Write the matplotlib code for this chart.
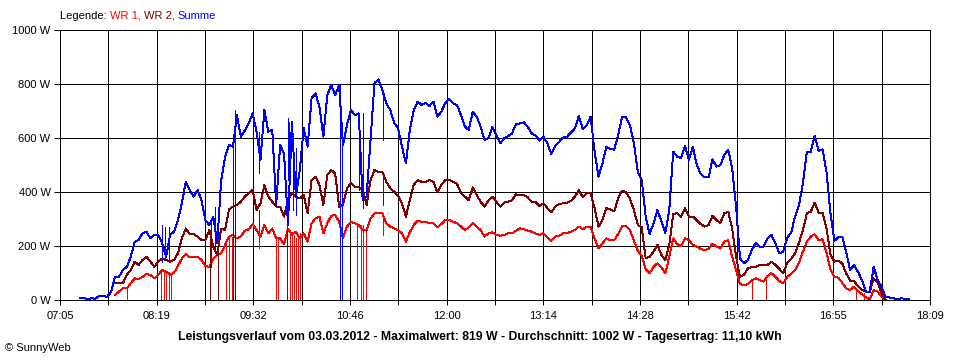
import numpy as np
import matplotlib
matplotlib.use("Agg")
import matplotlib.pyplot as plt

# Leistungsverlauf 03.03.2012, Werte in W, alle 3 Minuten ab 07:20
start_min = 440
step_min = 3
nan = np.nan

summe = [8, 8, 4, 6, 5, 15, 15, 12, 30, 86, 86, 111, 123, 160, 216, 222, 247, 253, 228, 241,
         241, 210, 160, 241, 253, 296, 358, 438, 407, 383, 407, 370, 296, 278, 309, 210, 444, 531, 574, 568,
         685, 605, 627, 654, 691, 623, 519, 704, 623, 630, 352, 574, 543, 278, 661, 383, 481, 636, 568, 747,
         765, 716, 605, 759, 796, 759, 796, 574, 648, 704, 685, 691, 370, 383, 593, 803, 817, 778, 728, 704,
         657, 636, 568, 506, 630, 704, 735, 722, 731, 719, 735, 679, 698, 728, 745, 728, 722, 685, 642, 630,
         698, 679, 642, 593, 599, 640, 611, 580, 599, 607, 617, 652, 654, 658, 642, 617, 609, 590, 605, 580,
         540, 571, 587, 602, 605, 620, 636, 682, 632, 648, 679, 550, 457, 506, 568, 559, 557, 611, 679, 677,
         648, 580, 475, 444, 309, 244, 284, 333, 290, 248, 333, 550, 531, 525, 571, 519, 568, 500, 467, 454,
         454, 521, 494, 500, 537, 556, 488, 346, 154, 136, 148, 185, 212, 198, 198, 228, 241, 210, 173, 179,
         231, 249, 309, 352, 432, 549, 549, 607, 552, 558, 475, 321, 219, 232, 235, 179, 111, 130, 105, 74,
         31, 31, 123, 74, 49, 12, 9, 6, 4, 6, 5, 2]

wr2 = [nan] * 9 + [
    62, 62, 62, 93, 111, 142, 130, 148, 160, 142, 123,
    142, 154, 148, 142, 148, 173, 228, 265, 244, 244, 235, 222, 222, 259, 198, 167, 265, 259, 336, 346,
    352, 364, 383, 395, 407, 333, 358, 426, 383, 364, 346, 346, 309, 370, 395, 383, 376, 389, 321, 444,
    457, 426, 352, 463, 481, 469, 346, 352, 414, 432, 420, 420, 407, 352, 444, 481, 475, 475, 438, 414,
    401, 386, 358, 309, 370, 426, 444, 438, 438, 444, 438, 399, 426, 444, 444, 438, 430, 397, 383, 370,
    417, 389, 364, 346, 368, 383, 364, 346, 361, 364, 370, 391, 389, 388, 380, 364, 362, 348, 358, 340,
    325, 346, 356, 358, 361, 367, 383, 407, 380, 395, 395, 340, 272, 296, 340, 336, 328, 376, 405, 399,
    376, 333, 278, 269, 154, 160, 179, 204, 167, 148, 204, 319, 321, 309, 340, 309, 309, 296, 281, 272,
    278, 312, 296, 286, 321, 327, 265, 160, 86, 93, 117, 123, 123, 130, 130, 130, 142, 130, 115, 99,
    138, 152, 173, 212, 259, 321, 327, 361, 323, 323, 265, 170, 142, 146, 136, 99, 72, 70, 52, 37,
    31, 31, 80, 65, 27, 0] + [nan] * 6

wr1 = [nan] * 9 + [
    19, 31, 43, 43, 62, 80, 77, 86, 96, 93, 80,
    93, 111, 105, 93, 101, 126, 154, 170, 158, 160, 160, 148, 126, 123, 154, 167, 173, 204, 235, 241,
    228, 235, 257, 262, 281, 259, 235, 278, 247, 265, 228, 228, 207, 265, 241, 253, 228, 247, 216, 284,
    302, 309, 247, 284, 312, 315, 290, 228, 272, 290, 284, 278, 259, 259, 302, 321, 321, 321, 284, 272,
    265, 259, 247, 216, 251, 278, 294, 290, 288, 286, 284, 269, 281, 296, 296, 290, 284, 272, 259, 269,
    284, 272, 259, 235, 247, 251, 241, 238, 241, 247, 247, 257, 265, 262, 257, 253, 246, 241, 247, 232,
    219, 235, 238, 247, 247, 253, 259, 272, 262, 272, 272, 228, 191, 210, 228, 222, 222, 244, 274, 274,
    259, 220, 182, 164, 114, 99, 123, 136, 121, 99, 160, 228, 207, 200, 228, 222, 204, 198, 189, 185,
    189, 209, 198, 191, 216, 222, 160, 111, 58, 56, 58, 74, 80, 74, 68, 89, 99, 86, 70, 62,
    86, 96, 111, 138, 179, 216, 235, 243, 222, 225, 175, 114, 86, 83, 64, 43, 37, 49, 33, 22,
    10, 2, 37, 31, 12, 0] + [nan] * 6

# kurze Einbrueche (Minuten seit Mitternacht, von, bis)
wr1_drop_t = [476, 502, 504, 506, 508, 510, 552, 554, 556.5, 589.5, 591, 600.5, 602, 603.5, 605,
              606.5, 608, 652, 654.5, 656, 658.5, 953.5, 964, 1032.5, 1039, 576.8, 671.8]
wr1_drop_lo = [0] * 25 + [191, 241]
wr1_drop_hi = [43, 111, 111, 105, 105, 93, 204, 235, 235, 228, 228, 253, 253, 241, 228,
               228, 247, 284, 278, 278, 259, 74, 89, 37, 25, 284, 321]

wr2_drop_t = [539.5, 545.5, 598.5, 576.8, 671.8]
wr2_drop_lo = [0, 0, 0, 267, 352]
wr2_drop_hi = [259, 198, 383, 333, 475]

summe_drop_t = [557, 558.5, 638.5, 640, 502.5, 505, 508, 540.5, 543, 599, 600, 603, 605,
                653.5, 656, 671.8, 576.8]
summe_drop_lo = [0, 0, 0, 0, 142, 150, 150, 123, 185, 444, 358, 333, 315, 407, 341, 593, 470]
summe_drop_hi = [568, 704, 796, 586, 278, 270, 270, 296, 346, 673, 661, 611, 562, 691, 691, 766, 623]

tick_labels = ["07:05", "08:19", "09:32", "10:46", "12:00", "13:14", "14:28", "15:42", "16:55", "18:09"]
t_min, t_max = 425, 1089

title = ("Leistungsverlauf vom 03.03.2012 - Maximalwert: 819 W - Durchschnitt: 1002 W"
         " - Tagesertrag: 11,10 kWh")

plt.rcParams['font.family'] = ['Liberation Sans', 'DejaVu Sans']
plt.rcParams['lines.antialiased'] = False

RED = "#ff0000"
MAROON = "#800000"
BLUE = "#0000ff"
LW = 0.7  # ~1 px
FS = 8

t = start_min + step_min * np.arange(len(summe))

fig = plt.figure(figsize=(9.6, 3.6), dpi=100)
ax = fig.add_axes([60 / 960, 60 / 360, 870 / 960, 270 / 360])

ax.plot(t, wr1, color=RED, lw=LW, zorder=3)
ax.vlines(wr1_drop_t, wr1_drop_lo, wr1_drop_hi, color=RED, lw=LW, zorder=3, antialiased=False)
ax.plot(t, wr2, color=MAROON, lw=LW, zorder=4)
ax.vlines(wr2_drop_t, wr2_drop_lo, wr2_drop_hi, color=MAROON, lw=LW, zorder=4, antialiased=False)
ax.plot(t, summe, color=BLUE, lw=LW, zorder=5)
ax.vlines(summe_drop_t, summe_drop_lo, summe_drop_hi, color=BLUE, lw=LW, zorder=5, antialiased=False)

ax.set_xlim(t_min, t_max)
ax.set_ylim(0, 1000)

xt = np.linspace(t_min, t_max, 2 * len(tick_labels) - 1)
xl = []
for i in range(len(xt)):
    xl.append(tick_labels[i // 2] if i % 2 == 0 else "")
ax.set_xticks(xt)
ax.set_xticklabels(xl)
yt = np.arange(0, 1001, 200)
ax.set_yticks(yt)
ax.set_yticklabels(["%d W" % v for v in yt])

ax.tick_params(axis='x', direction='out', length=3.6, width=LW, pad=4.5, labelsize=FS)
ax.tick_params(axis='y', direction='out', length=4.3, width=LW, pad=2.5, labelsize=FS)
ax.grid(True, color='black', linewidth=LW, antialiased=False)
ax.set_axisbelow(True)
for s in ax.spines.values():
    s.set_linewidth(LW)
    s.set_color('black')

# Legende als farbiger Text
fig.canvas.draw()
r = fig.canvas.get_renderer()
x = 60 / 960
parts = [("Legende: ", "black"), ("WR 1, ", RED), ("WR 2, ", MAROON), ("Summe", BLUE)]
for s, c in parts:
    txt = fig.text(x, 1 - 16 / 360, s, color=c, fontsize=FS, va='center')
    x += txt.get_window_extent(renderer=r).width / fig.bbox.width

fig.text(0.5, 1 - 337 / 360, title, ha='center', va='center', fontsize=8.8, fontweight='bold')
fig.text(5 / 960, 1 - 348 / 360, "\u00a9 SunnyWeb", va='center', fontsize=FS)

fig.savefig("out.png", dpi=100)
